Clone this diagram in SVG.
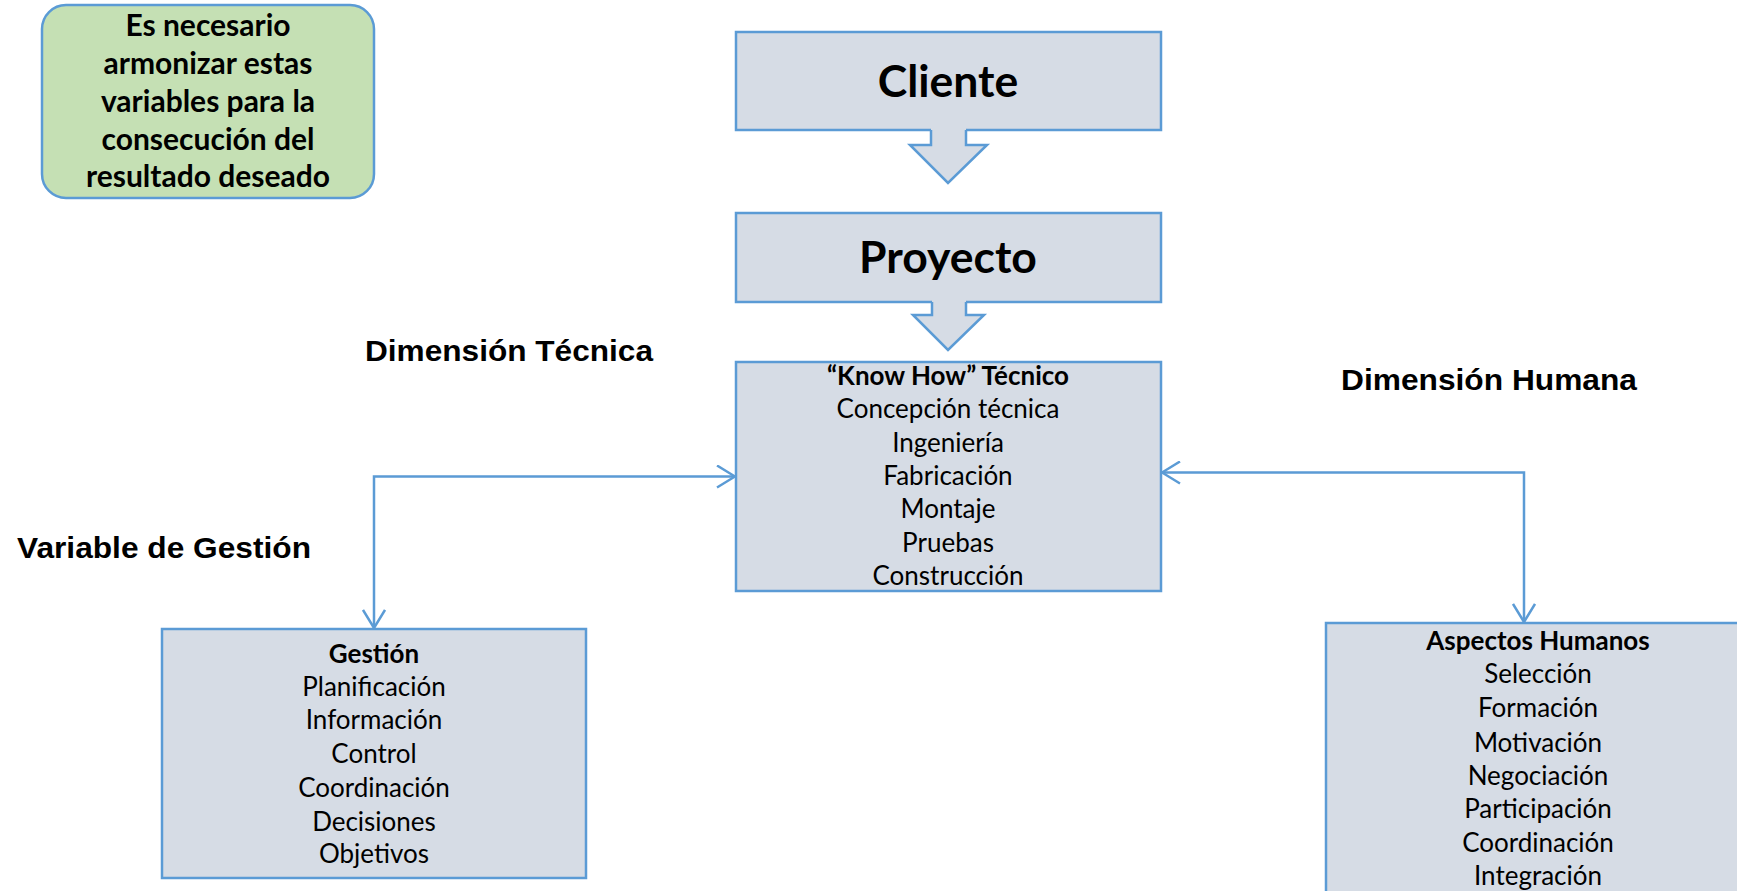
<svg xmlns="http://www.w3.org/2000/svg" width="1737" height="891" viewBox="0 0 1737 891">
<style>
.box{fill:#D6DCE5;stroke:#5B9BD5;stroke-width:2.5}
.note{fill:#C5E0B4;stroke:#5B9BD5;stroke-width:2.5}
.conn{fill:none;stroke:#5B9BD5;stroke-width:2.5}
.bfill{fill:#D6DCE5;stroke:none}
.bline{fill:none;stroke:#5B9BD5;stroke-width:2.5}
.t{font-family:Lato,"Open Sans","Liberation Sans",sans-serif;font-size:26px;fill:#000;text-anchor:middle}
.tb{font-weight:bold}
.nt{font-family:Lato,"Open Sans","Liberation Sans",sans-serif;font-size:30px;font-weight:bold;fill:#000;text-anchor:middle}
.big{font-family:Lato,"Open Sans","Liberation Sans",sans-serif;font-size:44.5px;font-weight:bold;fill:#000;text-anchor:middle}
.lab{font-family:"Liberation Sans",Arial,sans-serif;font-size:30px;font-weight:bold;fill:#000}
</style>
<defs>
<marker id="chev" viewBox="0 0 20 24" refX="19" refY="12" markerWidth="20" markerHeight="24" markerUnits="userSpaceOnUse" orient="auto-start-reverse">
<path d="M1,1 L19,12 L1,23" fill="none" stroke="#5B9BD5" stroke-width="2.5"/>
</marker>
</defs>

<g id="nota">
<rect class="note" x="42" y="5" width="332" height="193" rx="24" ry="24"/>
<text class="nt" x="208" y="36">Es necesario</text>
<text class="nt" x="208" y="74">armonizar estas</text>
<text class="nt" x="208" y="112">variables para la</text>
<text class="nt" x="208" y="150">consecución del</text>
<text class="nt" x="208" y="187">resultado deseado</text>
</g>

<g id="cliente">
<rect class="box" x="736" y="32" width="425" height="98"/>
<text class="big" x="948" y="97">Cliente</text>
<polygon class="bfill" points="931,128 966,128 966,145 987,145 948,183 910,145 931,145"/>
<polyline class="bline" points="931,130 931,145 910,145 948,183 987,145 966,145 966,130"/>
</g>

<g id="proyecto">
<rect class="box" x="736" y="213" width="425" height="89"/>
<text class="big" x="948" y="273">Proyecto</text>
<polygon class="bfill" points="932,300 966,300 966,315 984,315 948,350 913,315 932,315"/>
<polyline class="bline" points="932,302 932,315 913,315 948,350 984,315 966,315 966,302"/>
</g>

<g id="knowhow">
<rect class="box" x="736" y="362" width="425" height="229"/>
<text class="t tb" x="948" y="385">“Know How” Técnico</text>
<text class="t" x="948" y="418">Concepción técnica</text>
<text class="t" x="948" y="452">Ingeniería</text>
<text class="t" x="948" y="485">Fabricación</text>
<text class="t" x="948" y="518">Montaje</text>
<text class="t" x="948" y="552">Pruebas</text>
<text class="t" x="948" y="585">Construcción</text>
</g>

<g id="gestion">
<rect class="box" x="162" y="629" width="424" height="249"/>
<text class="t tb" x="374" y="663">Gestión</text>
<text class="t" x="374" y="696">Planificación</text>
<text class="t" x="374" y="729">Información</text>
<text class="t" x="374" y="763">Control</text>
<text class="t" x="374" y="797">Coordinación</text>
<text class="t" x="374" y="831">Decisiones</text>
<text class="t" x="374" y="863">Objetivos</text>
</g>

<g id="humanos">
<rect class="box" x="1326" y="623" width="424" height="290"/>
<text class="t tb" x="1538" y="650">Aspectos Humanos</text>
<text class="t" x="1538" y="683">Selección</text>
<text class="t" x="1538" y="717">Formación</text>
<text class="t" x="1538" y="752">Motivación</text>
<text class="t" x="1538" y="785">Negociación</text>
<text class="t" x="1538" y="818">Participación</text>
<text class="t" x="1538" y="852">Coordinación</text>
<text class="t" x="1538" y="885">Integración</text>
</g>

<g id="labels">
<text class="lab" x="365" y="361" textLength="288" lengthAdjust="spacingAndGlyphs">Dimensión Técnica</text>
<text class="lab" x="17" y="558" textLength="294" lengthAdjust="spacingAndGlyphs">Variable de Gestión</text>
<text class="lab" x="1341" y="390" textLength="296" lengthAdjust="spacingAndGlyphs">Dimensión Humana</text>
</g>

<g id="connectors">
<path class="conn" d="M735,476.5 H374 V628" marker-start="url(#chev)" marker-end="url(#chev)"/>
<path class="conn" d="M1162,472.5 H1524 V622" marker-start="url(#chev)" marker-end="url(#chev)"/>
</g>
</svg>
